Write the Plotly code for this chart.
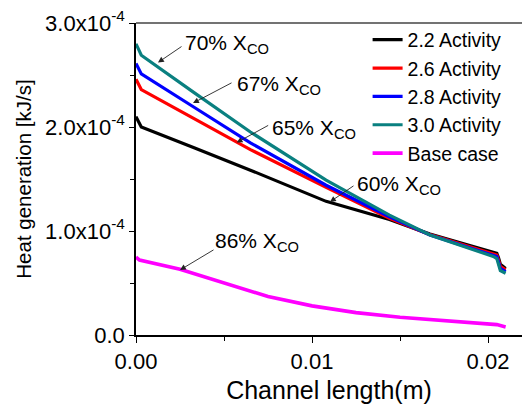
import plotly.graph_objects as go

# ---- data (heat generation in units of 1e-4 kJ/s) ----
SCALE = 1e-4
x_act = [0.0, 0.0003, 0.0033, 0.0065, 0.0108, 0.0144, 0.0167, 0.0203, 0.0205, 0.0206, 0.0207, 0.0210]
act_22 = [2.10, 2.00, 1.80, 1.585, 1.285, 1.11, 0.97, 0.80, 0.785, 0.74, 0.68, 0.64]
act_26 = [2.46, 2.36, 2.08, 1.783, 1.42, 1.122, 0.965, 0.786, 0.77, 0.72, 0.66, 0.626]
act_28 = [2.61, 2.51, 2.19, 1.847, 1.44, 1.137, 0.962, 0.77, 0.755, 0.70, 0.64, 0.61]
act_30 = [2.80, 2.69, 2.33, 1.952, 1.49, 1.153, 0.962, 0.755, 0.735, 0.68, 0.62, 0.594]

x_base = [0.0, 0.0002, 0.0025, 0.0053, 0.0075, 0.0100, 0.0125, 0.0150, 0.0175, 0.0199, 0.0205, 0.0210]
base = [0.75, 0.72, 0.633, 0.482, 0.37, 0.28, 0.215, 0.17, 0.135, 0.108, 0.10, 0.078]

series_names = ["2.2 Activity", "2.6 Activity", "2.8 Activity", "3.0 Activity", "Base case"]
series_colors = ["#000000", "#ff0000", "#0000ff", "#0a8080", "#ff00ff"]

y_tickvals = [0, 1, 2, 3]
y_ticktext = ["0.0", "1.0x10<sup>-4</sup>", "2.0x10<sup>-4</sup>", "3.0x10<sup>-4</sup>"]
x_tickvals = [0.0, 0.01, 0.02]
x_ticktext = ["0.00", "0.01", "0.02"]

# annotations: (label, tip_x, tip_y, arrow_dx_px, arrow_dy_px, text_x, text_y)
notes = [
    ("70%", 0.00125, 2.62, 25, -17, 0.00267, 2.80),
    ("67%", 0.00324, 2.23, 40, -21, 0.00563, 2.405),
    ("65%", 0.00572, 1.85, 33, -18, 0.00761, 1.985),
    ("60%", 0.01102, 1.28, 25, -17, 0.01244, 1.44),
    ("86%", 0.0025, 0.625, 35, -21, 0.00438, 0.89),
]

FONT = "Liberation Sans, Arial, sans-serif"

fig = go.Figure()
all_x = [x_act, x_act, x_act, x_act, x_base]
all_y = [act_22, act_26, act_28, act_30, base]
for name, col, xs, ys in zip(series_names, series_colors, all_x, all_y):
    fig.add_trace(go.Scatter(
        x=xs, y=[v * SCALE for v in ys], mode="lines", name=name,
        line=dict(color=col, width=3.2 if name != "Base case" else 3.6),
    ))

annotations = []
for lab, tx, ty, dx, dy, lx, ly in notes:
    annotations.append(dict(
        x=tx, y=ty * SCALE, xref="x", yref="y", text="", showarrow=True,
        ax=dx, ay=dy, arrowhead=2, arrowsize=1.3, arrowwidth=0.9, arrowcolor="#222",
        standoff=0,
    ))
    annotations.append(dict(
        x=lx, y=ly * SCALE, xref="x", yref="y", showarrow=False,
        text=lab + " X<sub>CO</sub>", xanchor="left", yanchor="middle",
        font=dict(family=FONT, size=21, color="black"),
    ))

fig.update_layout(
    width=522, height=404,
    margin=dict(l=136, r=0, t=23, b=69),
    paper_bgcolor="white", plot_bgcolor="white",
    font=dict(family=FONT, color="black"),
    showlegend=True,
    legend=dict(
        x=0.60, y=1.008, xanchor="left", yanchor="top",
        bgcolor="rgba(0,0,0,0)", font=dict(family=FONT, size=19.5, color="black"),
        borderwidth=0, tracegroupgap=0,
    ),
    annotations=annotations,
    shapes=[dict(type="line", xref="paper", yref="paper", x0=0, x1=1, y0=1, y1=1,
                 line=dict(color="#444", width=1.5))],
)
fig.update_xaxes(
    range=[0, 0.02193], showgrid=False, zeroline=False,
    showline=True, linecolor="black", linewidth=1.5,
    ticks="outside", ticklen=6, tickwidth=1.2, tickcolor="black",
    tickvals=x_tickvals, ticktext=x_ticktext,
    tickfont=dict(family=FONT, size=22, color="black"),
    minor=dict(ticks="outside", ticklen=4, tickwidth=1, tickcolor="black", dtick=0.005, showgrid=False),
    title=dict(text="Channel length(m)", font=dict(family=FONT, size=25, color="black"), standoff=8),
)
fig.update_yaxes(
    range=[0, 3 * SCALE], showgrid=False, zeroline=False,
    showline=True, linecolor="black", linewidth=1.5,
    ticks="outside", ticklen=5, tickwidth=1.2, tickcolor="black",
    tickvals=[v * SCALE for v in y_tickvals], ticktext=y_ticktext,
    tickfont=dict(family=FONT, size=22, color="black"),
    minor=dict(ticks="outside", ticklen=4, tickwidth=1, tickcolor="black", dtick=0.5 * SCALE, showgrid=False),
    title=dict(text="Heat generation [kJ/s]", font=dict(family=FONT, size=20.5, color="black"), standoff=8),
)

fig.write_html("out.html")
